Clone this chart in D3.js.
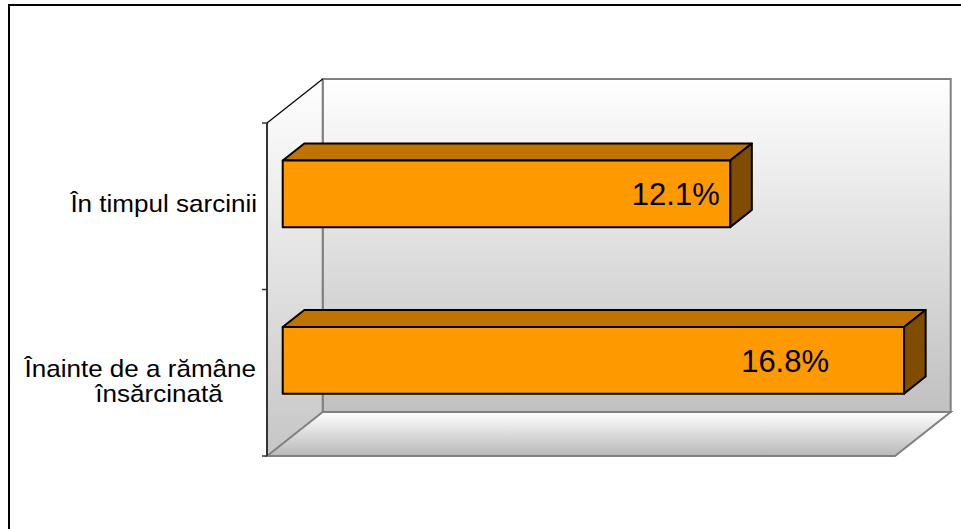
<!DOCTYPE html>
<html>
<head>
<meta charset="utf-8">
<script src="https://cdn.jsdelivr.net/npm/d3@7"></script>
<style>
  html, body { margin: 0; padding: 0; background: #ffffff; }
  svg { display: block; font-family: "Liberation Sans", Arial, sans-serif; }
</style>
</head>
<body>
<svg id="chart" width="961" height="529"></svg>
<script>
// Categories (top to bottom) and their shares, in percent
const categories = ["În timpul sarcinii", "Înainte de a rămâne însărcinată"];
const categoryLines = [["În timpul sarcinii"], ["Înainte de a rămâne", "însărcinată"]];
const values = [12.1, 16.8];
const valueLabels = ["12.1%", "16.8%"];

const svg = d3.select("#chart");

// Front plane of the 3-D box and its depth vector
const front = { left: 267, right: 895, top: 123, bottom: 456 };
const depth = { dx: 55.7, dy: -44 };
const barDepth = [0.282, 0.67];   // where each bar sits inside the box depth

const x = d3.scaleLinear().domain([0, 16.98]).range([front.left, front.right]);
const y = d3.scaleBand().domain(categories).range([front.top, front.bottom])
  .paddingInner(0.6).paddingOuter(0.3);
const yAxisBand = d3.scaleBand().domain(categories).range([front.top, front.bottom]);

const defs = svg.append("defs");
function vGrad(id, y1, y2, c1, c2) {
  const g = defs.append("linearGradient").attr("id", id)
    .attr("gradientUnits", "userSpaceOnUse")
    .attr("x1", 0).attr("x2", 0).attr("y1", y1).attr("y2", y2);
  g.append("stop").attr("offset", 0).attr("stop-color", c1);
  g.append("stop").attr("offset", 1).attr("stop-color", c2);
}
const backTop = front.top + depth.dy, backBottom = front.bottom + depth.dy;
vGrad("wallGrad", backTop, backBottom, "#ffffff", "#c0c0c0");
vGrad("sideGrad", backTop, front.bottom, "#ffffff", "#c6c6c6");
vGrad("floorGrad", backBottom, front.bottom, "#ffffff", "#b8b8b8");

// Outer frame
svg.append("rect").attr("x", 9).attr("y", 5).attr("width", 1000).attr("height", 600)
  .attr("fill", "none").attr("stroke", "#000").attr("stroke-width", 2);

const pts = a => a.map(p => p.join(",")).join(" ");
const bl = front.left + depth.dx, br = front.right + depth.dx;

// Back wall
svg.append("rect").attr("x", bl).attr("y", backTop)
  .attr("width", br - bl).attr("height", backBottom - backTop)
  .attr("fill", "url(#wallGrad)").attr("stroke", "#808080").attr("stroke-width", 2);

// Left side wall
svg.append("polygon")
  .attr("points", pts([[front.left, front.top], [bl, backTop], [bl, backBottom], [front.left, front.bottom]]))
  .attr("fill", "url(#sideGrad)").attr("stroke", "none");

// Floor
svg.append("polygon")
  .attr("points", pts([[front.left, front.bottom], [bl, backBottom], [br, backBottom], [front.right, front.bottom]]))
  .attr("fill", "url(#floorGrad)").attr("stroke", "#808080").attr("stroke-width", 2)
  .attr("stroke-linejoin", "miter");

// Back wall left edge redrawn over the side wall
svg.append("line").attr("x1", bl).attr("x2", bl).attr("y1", backTop).attr("y2", backBottom)
  .attr("stroke", "#808080").attr("stroke-width", 2);

// Top edge of the side wall
svg.append("line").attr("x1", front.left).attr("y1", front.top).attr("x2", bl).attr("y2", backTop)
  .attr("stroke", "#000").attr("stroke-width", 1.2);

// Category axis on the front-left edge
svg.append("line").attr("x1", front.left).attr("x2", front.left)
  .attr("y1", front.top).attr("y2", front.bottom)
  .attr("stroke", "#333").attr("stroke-width", 2);
const tickYs = [front.top].concat(categories.map(c => yAxisBand(c) + yAxisBand.bandwidth()));
svg.selectAll(".tick").data(tickYs).enter().append("line")
  .attr("x1", front.left - 5).attr("x2", front.left)
  .attr("y1", d => d).attr("y2", d => d)
  .attr("stroke", "#333").attr("stroke-width", 1.5);

// 3-D bars
const f0 = barDepth[0], f1 = barDepth[1];
const ox0 = depth.dx * f0, oy0 = depth.dy * f0;
const ox1 = depth.dx * f1, oy1 = depth.dy * f1;
const bars = svg.selectAll(".bar").data(categories).enter().append("g");
bars.each(function(c, i) {
  const g = d3.select(this);
  const xl = x(0) + ox0, xr = x(values[i]) + ox0;
  const yt = y(c) + oy0, yb = y(c) + y.bandwidth() + oy0;
  const ddx = ox1 - ox0, ddy = oy1 - oy0;
  const st = { stroke: "#000", "stroke-width": 2, "stroke-linejoin": "round" };
  const top = g.append("polygon")
    .attr("points", pts([[xl, yt], [xl + ddx, yt + ddy], [xr + ddx, yt + ddy], [xr, yt]]))
    .attr("fill", "#bf7300");
  const side = g.append("polygon")
    .attr("points", pts([[xr, yt], [xr + ddx, yt + ddy], [xr + ddx, yb + ddy], [xr, yb]]))
    .attr("fill", "#7f4c00");
  const face = g.append("rect").attr("x", xl).attr("y", yt)
    .attr("width", xr - xl).attr("height", yb - yt).attr("fill", "#ff9900");
  [top, side, face].forEach(s => Object.entries(st).forEach(([k, v]) => s.attr(k, v)));
});

// Value labels inside the bar faces
const labelInset = [10.5, 75];
svg.selectAll(".val").data(categories).enter().append("text")
  .attr("x", (c, i) => x(values[i]) + ox0 - labelInset[i])
  .attr("y", c => y(c) + y.bandwidth() / 2 + oy0 + 11.5)
  .attr("text-anchor", "end")
  .attr("font-size", 31)
  .attr("fill", "#000")
  .text((c, i) => valueLabels[i]);

// Category labels (slightly widened glyphs)
function catText(px, py, anchor, str) {
  svg.append("g").attr("transform", `translate(${px},${py}) scale(1.085,1)`)
    .append("text").attr("x", 0).attr("y", 0)
    .attr("text-anchor", anchor).attr("font-size", 24).attr("fill", "#000")
    .text(str);
}
categories.forEach((c, i) => {
  const lines = categoryLines[i];
  const cy = yAxisBand(c) + yAxisBand.bandwidth() / 2;
  if (lines.length === 1) {
    catText(257, cy + 6, "end", lines[0]);
  } else {
    catText(256, cy + 4, "end", lines[0]);
    catText(159, cy + 29, "middle", lines[1]);
  }
});
</script>
</body>
</html>
